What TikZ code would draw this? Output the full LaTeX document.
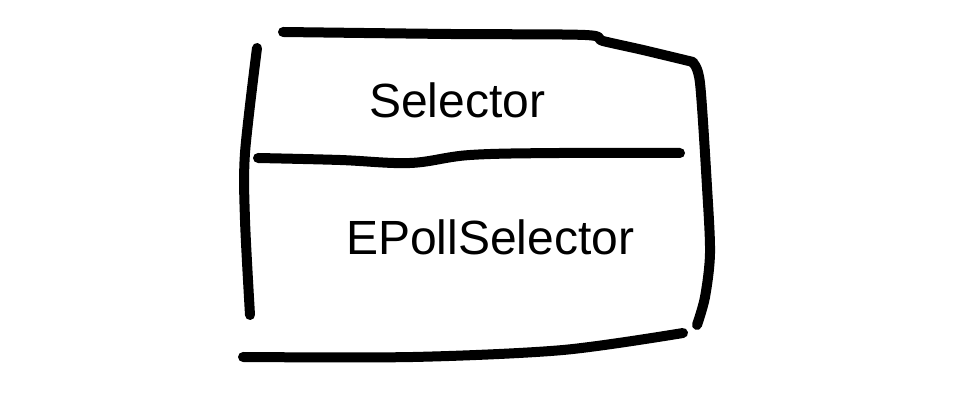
\documentclass[tikz,border=0pt]{standalone}
\usepackage{fontspec}
\setmainfont{Liberation Sans}
\begin{document}
\begin{tikzpicture}[x=1pt,y=1pt,
  stroke/.style={line width=10pt,line cap=round,line join=round,black},
  label/.style={font=\fontsize{48}{48}\selectfont,inner sep=0pt,anchor=base west}]
\useasboundingbox (0,0) rectangle (957,406);
\fill[white] (0,0) rectangle (957,406);
% top
\draw[stroke] plot[smooth,tension=0.5] coordinates {(283,374) (450,372) (585,371) (603,365) (643,356) (693,344)};
% right
\draw[stroke] plot[smooth,tension=0.5] coordinates {(693,343) (700,323) (707,219) (710,153) (705,109) (697,81)};
% left
\draw[stroke] plot[smooth,tension=0.5] coordinates {(257,358) (245,253) (245,186) (250,91)};
% middle
\draw[stroke] plot[smooth,tension=0.6] coordinates {(258,248) (340,246) (410,243) (470,251) (560,253) (680,253)};
% bottom
\draw[stroke] plot[smooth,tension=0.5] coordinates {(243,49) (413,49) (563,56) (683,73)};
\node[label] (sel) at (369,288) {Selector};
\node[label] (epoll) at (346,151) {EPollSelector};
\end{tikzpicture}
\end{document}
